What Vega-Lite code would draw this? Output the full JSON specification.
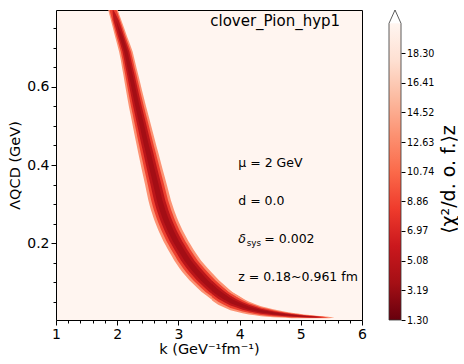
{
"$schema":"https://vega.github.io/schema/vega-lite/v6.json",
"background":"white",
"padding":{"left":7,"top":8,"right":0,"bottom":0},
"spacing":20,
"config":{"font":"DejaVu Sans","axis":{"labelFont":"DejaVu Sans","titleFont":"DejaVu Sans","labelColor":"#000","titleColor":"#000","tickColor":"#000","titleFontWeight":"normal","grid":false,"domain":false,"tickCount":100,"labelOverlap":false},"area":{"opacity":1}},
"datasets":{
"bandA":[
{"l":0.80,"a1":1.849,"b1":2.001,"a2":1.868,"b2":1.982,"a3":1.925,"b3":1.925},
{"l":0.79,"a1":1.865,"b1":2.024,"a2":1.885,"b2":2.004,"a3":1.925,"b3":1.964},
{"l":0.77,"a1":1.898,"b1":2.069,"a2":1.920,"b2":2.048,"a3":1.941,"b3":2.026,"a4":1.984,"b4":1.984},
{"l":0.75,"a1":1.931,"b1":2.115,"a2":1.954,"b2":2.092,"a3":1.977,"b3":2.069,"a4":2.011,"b4":2.034},
{"l":0.73,"a1":1.964,"b1":2.160,"a2":1.988,"b2":2.136,"a3":2.013,"b3":2.111,"a4":2.038,"b4":2.087},
{"l":0.71,"a1":1.998,"b1":2.208,"a2":2.024,"b2":2.181,"a3":2.051,"b3":2.155,"a4":2.077,"b4":2.129},
{"l":0.69,"a1":2.031,"b1":2.253,"a2":2.059,"b2":2.225,"a3":2.087,"b3":2.198,"a4":2.115,"b4":2.170},
{"l":0.67,"a1":2.057,"b1":2.283,"a2":2.085,"b2":2.255,"a3":2.113,"b3":2.226,"a4":2.142,"b4":2.198},
{"l":0.65,"a1":2.079,"b1":2.314,"a2":2.108,"b2":2.284,"a3":2.137,"b3":2.255,"a4":2.167,"b4":2.226},
{"l":0.63,"a1":2.102,"b1":2.346,"a2":2.132,"b2":2.316,"a3":2.163,"b3":2.285,"a4":2.193,"b4":2.254},
{"l":0.61,"a1":2.123,"b1":2.377,"a2":2.155,"b2":2.345,"a3":2.187,"b3":2.313,"a4":2.218,"b4":2.282},
{"l":0.59,"a1":2.145,"b1":2.407,"a2":2.178,"b2":2.375,"a3":2.211,"b3":2.342,"a4":2.243,"b4":2.309},
{"l":0.57,"a1":2.168,"b1":2.440,"a2":2.202,"b2":2.406,"a3":2.236,"b3":2.372,"a4":2.270,"b4":2.338},
{"l":0.55,"a1":2.191,"b1":2.472,"a2":2.226,"b2":2.437,"a3":2.261,"b3":2.402,"a4":2.297,"b4":2.367},
{"l":0.53,"a1":2.217,"b1":2.506,"a2":2.253,"b2":2.469,"a3":2.289,"b3":2.433,"a4":2.325,"b4":2.397},
{"l":0.51,"a1":2.242,"b1":2.539,"a2":2.279,"b2":2.502,"a3":2.316,"b3":2.465,"a4":2.353,"b4":2.428},
{"l":0.49,"a1":2.267,"b1":2.572,"a2":2.306,"b2":2.534,"a3":2.344,"b3":2.496,"a4":2.382,"b4":2.458},
{"l":0.47,"a1":2.293,"b1":2.606,"a2":2.332,"b2":2.567,"a3":2.371,"b3":2.528,"a4":2.410,"b4":2.488},
{"l":0.45,"a1":2.319,"b1":2.639,"a2":2.359,"b2":2.599,"a3":2.399,"b3":2.559,"a4":2.439,"b4":2.519},
{"l":0.43,"a1":2.345,"b1":2.674,"a2":2.386,"b2":2.633,"a3":2.428,"b3":2.592,"a4":2.469,"b4":2.551},
{"l":0.41,"a1":2.372,"b1":2.707,"a2":2.414,"b2":2.665,"a3":2.455,"b3":2.623,"a4":2.497,"b4":2.581},
{"l":0.39,"a1":2.399,"b1":2.741,"a2":2.442,"b2":2.699,"a3":2.485,"b3":2.656,"a4":2.528,"b4":2.613},
{"l":0.37,"a1":2.427,"b1":2.776,"a2":2.471,"b2":2.732,"a3":2.514,"b3":2.688,"a4":2.558,"b4":2.645},
{"l":0.35,"a1":2.455,"b1":2.810,"a2":2.499,"b2":2.766,"a3":2.544,"b3":2.721,"a4":2.588,"b4":2.677},
{"l":0.33,"a1":2.481,"b1":2.843,"a2":2.526,"b2":2.798,"a3":2.571,"b3":2.752,"a4":2.617,"b4":2.707},
{"l":0.31,"a1":2.509,"b1":2.877,"a2":2.555,"b2":2.831,"a3":2.601,"b3":2.785,"a4":2.647,"b4":2.739},
{"l":0.295,"a1":2.533,"b1":2.908,"a2":2.580,"b2":2.862,"a3":2.627,"b3":2.815,"a4":2.674,"b4":2.768},
{"l":0.285,"a1":2.552,"b1":2.929,"a2":2.599,"b2":2.882,"a3":2.646,"b3":2.835,"a4":2.693,"b4":2.787},
{"l":0.275,"a1":2.572,"b1":2.952,"a2":2.619,"b2":2.905,"a3":2.667,"b3":2.857,"a4":2.714,"b4":2.809},
{"l":0.265,"a1":2.593,"b1":2.977,"a2":2.641,"b2":2.929,"a3":2.689,"b3":2.881,"a4":2.737,"b4":2.833},
{"l":0.255,"a1":2.615,"b1":3.002,"a2":2.664,"b2":2.954,"a3":2.712,"b3":2.906,"a4":2.760,"b4":2.857},
{"l":0.245,"a1":2.641,"b1":3.032,"a2":2.690,"b2":2.983,"a3":2.739,"b3":2.934,"a4":2.788,"b4":2.886},
{"l":0.235,"a1":2.667,"b1":3.062,"a2":2.716,"b2":3.012,"a3":2.766,"b3":2.963,"a4":2.815,"b4":2.914},
{"l":0.225,"a1":2.694,"b1":3.094,"a2":2.744,"b2":3.044,"a3":2.794,"b3":2.994,"a4":2.844,"b4":2.944},
{"l":0.215,"a1":2.725,"b1":3.129,"a2":2.775,"b2":3.078,"a3":2.826,"b3":3.028,"a4":2.876,"b4":2.977},
{"l":0.205,"a1":2.755,"b1":3.164,"a2":2.806,"b2":3.113,"a3":2.857,"b3":3.062,"a4":2.908,"b4":3.010},
{"l":0.195,"a1":2.789,"b1":3.203,"a2":2.841,"b2":3.151,"a3":2.893,"b3":3.100,"a4":2.944,"b4":3.048},
{"l":0.185,"a1":2.824,"b1":3.241,"a2":2.876,"b2":3.189,"a3":2.929,"b3":3.137,"a4":2.981,"b4":3.085},
{"l":0.175,"a1":2.860,"b1":3.282,"a2":2.913,"b2":3.229,"a3":2.966,"b3":3.177,"a4":3.018,"b4":3.124},
{"l":0.165,"a1":2.898,"b1":3.327,"a2":2.952,"b2":3.273,"a3":3.005,"b3":3.220,"a4":3.059,"b4":3.166},
{"l":0.155,"a1":2.935,"b1":3.372,"a2":2.990,"b2":3.318,"a3":3.045,"b3":3.263,"a4":3.099,"b4":3.209},
{"l":0.145,"a1":2.977,"b1":3.426,"a2":3.033,"b2":3.370,"a3":3.089,"b3":3.314,"a4":3.145,"b4":3.258},
{"l":0.135,"a1":3.021,"b1":3.483,"a2":3.079,"b2":3.425,"a3":3.137,"b3":3.368,"a4":3.194,"b4":3.310},
{"l":0.125,"a1":3.067,"b1":3.540,"a2":3.126,"b2":3.481,"a3":3.185,"b3":3.422,"a4":3.245,"b4":3.363},
{"l":0.115,"a1":3.124,"b1":3.602,"a2":3.183,"b2":3.542,"a3":3.243,"b3":3.482,"a4":3.303,"b4":3.422},
{"l":0.105,"a1":3.180,"b1":3.663,"a2":3.241,"b2":3.603,"a3":3.301,"b3":3.542,"a4":3.361,"b4":3.482},
{"l":0.095,"a1":3.244,"b1":3.732,"a2":3.305,"b2":3.671,"a3":3.366,"b3":3.610,"a4":3.427,"b4":3.549},
{"l":0.085,"a1":3.311,"b1":3.805,"a2":3.373,"b2":3.743,"a3":3.435,"b3":3.681,"a4":3.496,"b4":3.620},
{"l":0.075,"a1":3.380,"b1":3.880,"a2":3.443,"b2":3.818,"a3":3.505,"b3":3.755,"a4":3.568,"b4":3.693},
{"l":0.065,"a1":3.463,"b1":3.985,"a2":3.528,"b2":3.920,"a3":3.594,"b3":3.855,"a4":3.659,"b4":3.789},
{"l":0.055,"a1":3.547,"b1":4.087,"a2":3.615,"b2":4.020,"a3":3.682,"b3":3.952,"a4":3.750,"b4":3.885}
],
"bandB":[
{"k":3.55,"a1":0.0527,"b1":0.1197,"a2":0.0611,"b2":0.1113,"a3":0.0695,"b3":0.1030,"a4":0.0778,"b4":0.0946},
{"k":3.65,"a1":0.0419,"b1":0.1044,"a2":0.0498,"b2":0.0966,"a3":0.0576,"b3":0.0888,"a4":0.0654,"b4":0.0810},
{"k":3.75,"a1":0.0347,"b1":0.0909,"a2":0.0417,"b2":0.0838,"a3":0.0487,"b3":0.0768,"a4":0.0557,"b4":0.0698},
{"k":3.85,"a1":0.0277,"b1":0.0770,"a2":0.0339,"b2":0.0708,"a3":0.0400,"b3":0.0647,"a4":0.0462,"b4":0.0585},
{"k":3.95,"a1":0.0239,"b1":0.0671,"a2":0.0293,"b2":0.0617,"a3":0.0347,"b3":0.0563,"a4":0.0401,"b4":0.0509},
{"k":4.05,"a1":0.0200,"b1":0.0580,"a2":0.0248,"b2":0.0533,"a3":0.0295,"b3":0.0485,"a4":0.0343,"b4":0.0438},
{"k":4.15,"a1":0.0172,"b1":0.0502,"a2":0.0213,"b2":0.0461,"a3":0.0254,"b3":0.0419,"a4":0.0295,"b4":0.0378},
{"k":4.25,"a1":0.0149,"b1":0.0443,"a2":0.0185,"b2":0.0407,"a3":0.0222,"b3":0.0370,"a4":0.0259,"b4":0.0333},
{"k":4.35,"a1":0.0125,"b1":0.0385,"a2":0.0158,"b2":0.0353,"a3":0.0190,"b3":0.0321,"a4":0.0223,"b4":0.0288},
{"k":4.45,"a1":0.0113,"b1":0.0346,"a2":0.0142,"b2":0.0317,"a3":0.0171,"b3":0.0288,"a4":0.0200,"b4":0.0259},
{"k":4.55,"a1":0.0101,"b1":0.0305,"a2":0.0127,"b2":0.0280,"a3":0.0152,"b3":0.0254,"a4":0.0178,"b4":0.0229},
{"k":4.65,"a1":0.0092,"b1":0.0272,"a2":0.0115,"b2":0.0249,"a3":0.0137,"b3":0.0227,"a4":0.0160,"b4":0.0204},
{"k":4.75,"a1":0.0085,"b1":0.0243,"a2":0.0105,"b2":0.0223,"a3":0.0124,"b3":0.0204,"a4":0.0144,"b4":0.0184},
{"k":4.85,"a1":0.0078,"b1":0.0216,"a2":0.0095,"b2":0.0199,"a3":0.0112,"b3":0.0182,"a4":0.0130,"b4":0.0164},
{"k":4.95,"a1":0.0077,"b1":0.0194,"a2":0.0092,"b2":0.0180,"a3":0.0106,"b3":0.0165,"a4":0.0121,"b4":0.0150},
{"k":5.05,"a1":0.0076,"b1":0.0173,"a2":0.0088,"b2":0.0160,"a3":0.0100,"b3":0.0148,"a4":0.0112,"b4":0.0136},
{"k":5.15,"a1":0.0074,"b1":0.0156,"a2":0.0084,"b2":0.0145,"a3":0.0095,"b3":0.0135,"a4":0.0107,"b4":0.0123},
{"k":5.25,"a1":0.0073,"b1":0.0139,"a2":0.0081,"b2":0.0131,"a3":0.0090,"b3":0.0123,"a4":0.0106,"b4":0.0106},
{"k":5.35,"a1":0.0073,"b1":0.0124,"a2":0.0079,"b2":0.0118,"a3":0.0099,"b3":0.0099},
{"k":5.45,"a1":0.0073,"b1":0.0114,"a2":0.0094,"b2":0.0094},
{"k":5.55,"a1":0.0090,"b1":0.0090}
]},
"hconcat":[
{"width":306,"height":310,
 "view":{"stroke":"#000","strokeWidth":1,"fill":"#fff5f0"},
 "layer":[
  {"data":{"name":"bandA"},"mark":{"type":"area","orient":"horizontal","clip":true},
   "encoding":{
    "y":{"field":"l","type":"quantitative","scale":{"domain":[0.003,0.797],"nice":false,"zero":false},
     "axis":{"title":"ΛQCD (GeV)","values":[0.05,0.1,0.15,0.2,0.25,0.3,0.35,0.4,0.45,0.5,0.55,0.6,0.65,0.7,0.75],
      "labelExpr":"abs(datum.value*5-round(datum.value*5))<0.001 ? format(datum.value,'.1f') : ''",
      "tickSize":{"condition":{"test":"abs(datum.value*5-round(datum.value*5))<0.001","value":5},"value":3},
      "labelFontSize":14,"titleFontSize":14.5,"labelFlush":false,"labelPadding":2,"titlePadding":4,"labelOverlap":false,"tickCount":100}},
    "x":{"field":"a1","type":"quantitative","scale":{"domain":[1,6],"nice":false,"zero":false},
     "axis":{"title":"k (GeV⁻¹fm⁻¹)","values":[1,1.2,1.4,1.6,1.8,2,2.2,2.4,2.6,2.8,3,3.2,3.4,3.6,3.8,4,4.2,4.4,4.6,4.8,5,5.2,5.4,5.6,5.8,6],
      "labelExpr":"abs(datum.value-round(datum.value))<0.001 ? format(datum.value,'d') : ''",
      "tickSize":{"condition":{"test":"abs(datum.value-round(datum.value))<0.001","value":5},"value":3},
      "labelFontSize":14,"titleFontSize":14.5,"labelFlush":false,"labelPadding":2,"titlePadding":1,"labelOverlap":false,"tickCount":100}},
    "x2":{"field":"b1"},
    "color":{"datum":15.5,"type":"quantitative","scale":{"scheme":"reds","reverse":true,"domain":[1.3,20.19],"clamp":true},"legend":null}}},
  {"data":{"name":"bandB"},"transform":[{"filter":"isValid(datum.a1)"}],"mark":{"type":"area","orient":"vertical","clip":true},
   "encoding":{"x":{"field":"k","type":"quantitative"},"y":{"field":"a1","type":"quantitative"},"y2":{"field":"b1"},
    "color":{"datum":15.5,"type":"quantitative"}}},
  {"data":{"name":"bandA"},"mark":{"type":"area","orient":"horizontal","clip":true},
   "encoding":{"y":{"field":"l","type":"quantitative"},"x":{"field":"a2","type":"quantitative"},"x2":{"field":"b2"},
    "color":{"datum":9,"type":"quantitative"}}},
  {"data":{"name":"bandB"},"transform":[{"filter":"isValid(datum.a2)"}],"mark":{"type":"area","orient":"vertical","clip":true},
   "encoding":{"x":{"field":"k","type":"quantitative"},"y":{"field":"a2","type":"quantitative"},"y2":{"field":"b2"},
    "color":{"datum":9,"type":"quantitative"}}},
  {"data":{"name":"bandA"},"transform":[{"filter":"isValid(datum.a3)"}],"mark":{"type":"area","orient":"horizontal","clip":true},
   "encoding":{"y":{"field":"l","type":"quantitative"},"x":{"field":"a3","type":"quantitative"},"x2":{"field":"b3"},
    "color":{"datum":4,"type":"quantitative"}}},
  {"data":{"name":"bandB"},"transform":[{"filter":"isValid(datum.a3)"}],"mark":{"type":"area","orient":"vertical","clip":true},
   "encoding":{"x":{"field":"k","type":"quantitative"},"y":{"field":"a3","type":"quantitative"},"y2":{"field":"b3"},
    "color":{"datum":4,"type":"quantitative"}}},
  {"data":{"name":"bandA"},"transform":[{"filter":"isValid(datum.a4)"}],"mark":{"type":"area","orient":"horizontal","clip":true},
   "encoding":{"y":{"field":"l","type":"quantitative"},"x":{"field":"a4","type":"quantitative"},"x2":{"field":"b4"},
    "color":{"datum":2.2,"type":"quantitative"}}},
  {"data":{"name":"bandB"},"transform":[{"filter":"isValid(datum.a4)"}],"mark":{"type":"area","orient":"vertical","clip":true},
   "encoding":{"x":{"field":"k","type":"quantitative"},"y":{"field":"a4","type":"quantitative"},"y2":{"field":"b4"},
    "color":{"datum":2.2,"type":"quantitative"}}},
  {"data":{"values":[{}]},"mark":{"type":"text","align":"left","baseline":"alphabetic","fontSize":15,"font":"DejaVu Sans","color":"#000"},
   "encoding":{"x":{"datum":3.52},"y":{"datum":0.757},"text":{"value":"clover_Pion_hyp1"}}},
  {"data":{"values":[{}]},"mark":{"type":"text","align":"left","baseline":"alphabetic","fontSize":12.5,"font":"DejaVu Sans","color":"#000"},
   "encoding":{"x":{"datum":3.978},"y":{"datum":0.3954},"text":{"value":"μ = 2 GeV"}}},
  {"data":{"values":[{}]},"mark":{"type":"text","align":"left","baseline":"alphabetic","fontSize":12.5,"font":"DejaVu Sans","color":"#000"},
   "encoding":{"x":{"datum":3.978},"y":{"datum":0.2976},"text":{"value":"d = 0.0"}}},
  {"data":{"values":[{}]},"mark":{"type":"text","align":"left","baseline":"alphabetic","fontSize":12.5,"fontStyle":"italic","font":"DejaVu Sans","color":"#000"},
   "encoding":{"x":{"datum":3.978},"y":{"datum":0.1995},"text":{"value":"δ"}}},
  {"data":{"values":[{}]},"mark":{"type":"text","align":"left","baseline":"alphabetic","fontSize":8.8,"font":"DejaVu Sans","color":"#000"},
   "encoding":{"x":{"datum":4.116},"y":{"datum":0.1936},"text":{"value":"sys"}}},
  {"data":{"values":[{}]},"mark":{"type":"text","align":"left","baseline":"alphabetic","fontSize":12.5,"font":"DejaVu Sans","color":"#000"},
   "encoding":{"x":{"datum":4.404},"y":{"datum":0.1995},"text":{"value":"= 0.002"}}},
  {"data":{"values":[{}]},"mark":{"type":"text","align":"left","baseline":"alphabetic","fontSize":12.5,"font":"DejaVu Sans","color":"#000"},
   "encoding":{"x":{"datum":3.978},"y":{"datum":0.1017},"text":{"value":"z = 0.18~0.961 fm"}}}
 ]},
{"width":12,"height":310,
 "view":{"stroke":null},
 "layer":[
  {"data":{"values":[{"lo":1.30,"hi":20.19}]},
   "mark":{"type":"rect","color":{"gradient":"linear","x1":0,"y1":1,"x2":0,"y2":0,"stops":[
     {"offset":0,"color":"#67000d"},{"offset":0.125,"color":"#a50f15"},{"offset":0.25,"color":"#cb181d"},{"offset":0.375,"color":"#ef3b2c"},{"offset":0.5,"color":"#fb6a4a"},{"offset":0.625,"color":"#fc9272"},{"offset":0.75,"color":"#fcbba1"},{"offset":0.875,"color":"#fee0d2"},{"offset":1,"color":"#fff5f0"}]}},
   "encoding":{
    "x":{"datum":0,"type":"quantitative","scale":{"domain":[0,1],"nice":false,"zero":false},"axis":null},
    "x2":{"datum":1},
    "y":{"field":"lo","type":"quantitative","scale":{"domain":[1.3,21.04],"nice":false,"zero":false},
     "axis":{"orient":"right","values":[1.30,3.19,5.08,6.97,8.86,10.74,12.63,14.52,16.41,18.30],"format":".2f","labelFontSize":9.6,"tickSize":4,"labelPadding":1.5,"tickCount":100,"labelOverlap":false,
      "title":"⟨χ²/d. o. f.⟩z","titleFontSize":19,"titleAngle":270,"titleBaseline":"top","titleX":38,"titleY":169}},
    "y2":{"field":"hi"}
   }},
  {"data":{"values":[{"i":0,"u":0,"v":1.30},{"i":1,"u":0,"v":20.19},{"i":2,"u":0.5,"v":21.04},{"i":3,"u":1,"v":20.19},{"i":4,"u":1,"v":1.30},{"i":5,"u":0,"v":1.30}]},
   "mark":{"type":"line","color":"#333","strokeWidth":0.8},
   "encoding":{"x":{"field":"u","type":"quantitative"},"y":{"field":"v","type":"quantitative"},"order":{"field":"i","type":"quantitative"}}}
 ]}
]
}
